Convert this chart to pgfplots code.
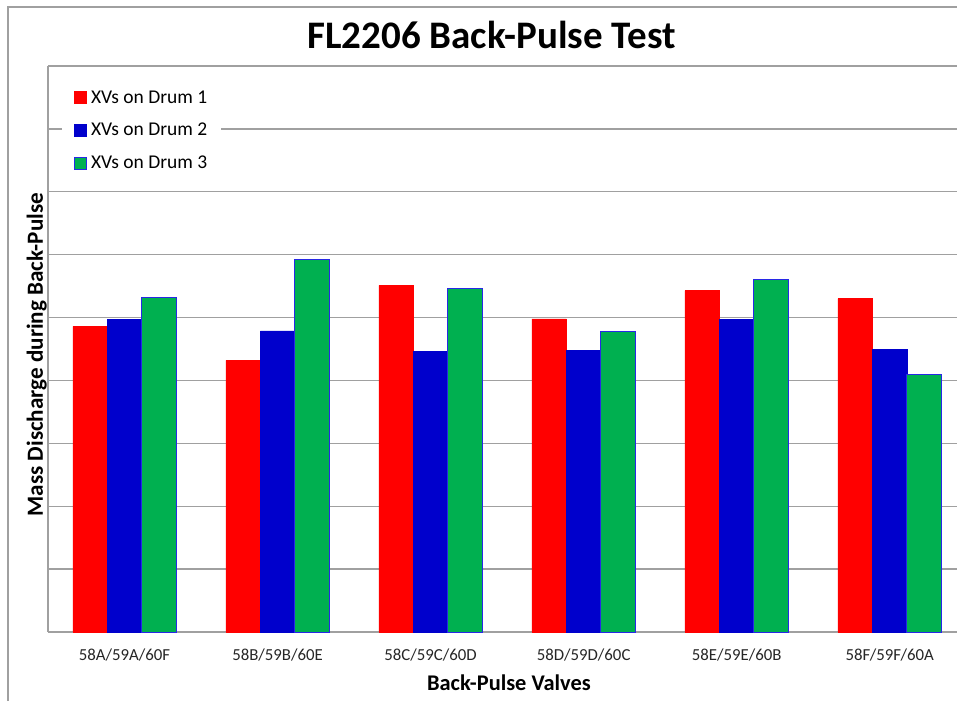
\documentclass[border=0pt]{standalone}
\usepackage{pgfplots}
\pgfplotsset{compat=1.18}
\usepackage{fontspec}
\setmainfont{Carlito}
\definecolor{cred}{RGB}{255,0,0}
\definecolor{cblue}{RGB}{0,0,204}
\definecolor{cgreen}{RGB}{0,176,80}
\definecolor{cedge}{RGB}{40,40,230}
\definecolor{gridc}{RGB}{160,160,160}
\begin{document}
\begin{tikzpicture}[x=1pt,y=1pt]
\useasboundingbox (0,0) rectangle (957,701);
\draw[gridc, line width=1.5pt] (8,0) -- (8,694) -- (957,694);
\begin{axis}[
  at={(48pt,69pt)}, anchor=south west,
  width=909pt, height=566pt, scale only axis,
  xmin=-0.5, xmax=5.44, ymin=0, ymax=9,
  ytick={0,...,9}, yticklabels={},
  xtick={0,...,5},
  xticklabels={58A/59A/60F,58B/59B/60E,58C/59C/60D,58D/59D/60C,58E/59E/60B,58F/59F/60A},
  xticklabel style={font=\fontsize{16.8}{20}\selectfont, color=black!85, yshift=-13pt},
  major tick length=0pt,
  ymajorgrids, grid style={gridc, line width=1.3pt},
  axis x line*=bottom, axis y line*=left,
  axis line style={gridc, line width=1.3pt, -},
  title={FL2206 Back-Pulse Test},
  title style={font=\fontsize{39}{45}\selectfont\bfseries, at={(axis description cs:0.488,1.044)}, anchor=center},
  xlabel={Back-Pulse Valves},
  xlabel style={font=\fontsize{22.4}{26}\selectfont\bfseries, at={(axis description cs:0.507,-0.09)}, anchor=center},
  ylabel={Mass Discharge during Back-Pulse},
  ylabel style={font=\fontsize{23.1}{26}\selectfont\bfseries, at={(axis description cs:-0.0125,0.490)}, anchor=center, rotate=0},
  legend style={at={(0.0154,0.969)}, anchor=north west, draw=none, fill=white,
    font=\fontsize{19.5}{23}\selectfont, row sep=14.5pt, inner xsep=12pt, inner ysep=5pt},
  legend cell align=left,
  legend image code/.code={\draw[#1, line width=0.8pt] (0pt,-6pt) rectangle (12pt,6pt); \path (14pt,0pt);},
]
\addplot[ybar, bar width=0.2255, bar shift=-0.2255, fill=cred, draw=cred, line width=0.5pt]
  coordinates {(0,4.86) (1,4.32) (2,5.51) (3,4.98) (4,5.43) (5,5.30)};
\addplot[ybar, bar width=0.2255, bar shift=0, fill=cblue, draw=cblue, line width=0.5pt]
  coordinates {(0,4.97) (1,4.79) (2,4.46) (3,4.48) (4,4.97) (5,4.49)};
\addplot[ybar, bar width=0.2255, bar shift=0.2255, fill=cgreen, draw=cedge, line width=0.9pt]
  coordinates {(0,5.32) (1,5.92) (2,5.46) (3,4.78) (4,5.60) (5,4.10)};
\legend{XVs on Drum 1, XVs on Drum 2, XVs on Drum 3}
\end{axis}
\end{tikzpicture}
\end{document}
